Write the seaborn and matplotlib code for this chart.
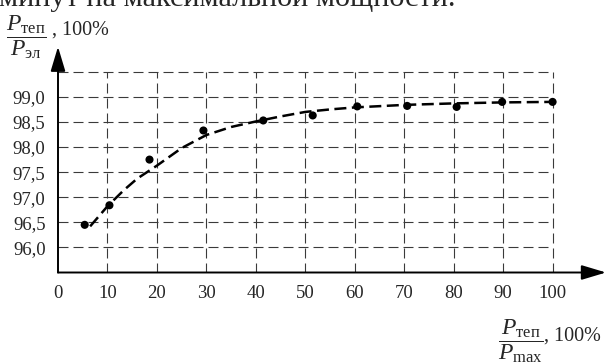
import matplotlib
matplotlib.use('Agg')
import matplotlib.pyplot as plt
import seaborn as sns
import pandas as pd

# measured points
load_pct = [5.4, 10.4, 18.5, 29.4, 41.5, 51.5, 60.5, 70.6, 80.6, 89.8, 100.0]
efficiency = [96.45, 96.84, 97.75, 98.33, 98.53, 98.63, 98.81, 98.82, 98.80, 98.90, 98.90]

# fitted curve
curve_x = [6.5, 10, 13.3, 16, 20, 25, 30, 35, 40, 45, 50, 55, 60, 70, 80, 90, 100]
curve_y = [96.42, 96.82, 97.14, 97.37, 97.63, 97.98, 98.24, 98.40, 98.51, 98.61,
           98.70, 98.75, 98.79, 98.84, 98.87, 98.89, 98.90]

x_ticks = [0, 10, 20, 30, 40, 50, 60, 70, 80, 90, 100]
y_ticks = [96.0, 96.5, 97.0, 97.5, 98.0, 98.5, 99.0]
y_tick_labels = ['96,0', '96,5', '97,0', '97,5', '98,0', '98,5', '99,0']
grid_x = [10, 20, 30, 40, 50, 60, 70, 80, 90, 100]
grid_y = [96.0, 96.5, 97.0, 97.5, 98.0, 98.5, 99.0, 99.5]

points_df = pd.DataFrame({'load': load_pct, 'eff': efficiency})
curve_df = pd.DataFrame({'load': curve_x, 'eff': curve_y})

sns.set_style('white')
plt.rcParams['font.family'] = ['Liberation Serif', 'DejaVu Serif']
plt.rcParams['mathtext.fontset'] = 'custom'
plt.rcParams['mathtext.rm'] = 'Liberation Serif'
plt.rcParams['mathtext.it'] = 'Liberation Serif:italic'

W, H = 606, 363
fig = plt.figure(figsize=(W / 100, H / 100), dpi=100)
x0_px, y0_px, ytop_px = 58, 272.5, 46.7
ax = fig.add_axes([x0_px / W, (H - y0_px) / H, (W - x0_px) / W, (y0_px - ytop_px) / H])
ax.set_xlim(0, 110.8)
ax.set_ylim(95.5, 100.0)

# dashed grid only inside the 0..100 / 95.5..99.5 box
ax.hlines(grid_y, 0, 100, colors='#3a3a3a', linewidth=0.8,
          linestyles=(0, (9, 4.5)), zorder=1)
ax.vlines(grid_x, 95.5, 99.5, colors='#3a3a3a', linewidth=0.8,
          linestyles=(0, (9, 4.5)), zorder=1)

sns.lineplot(data=curve_df, x='load', y='eff', ax=ax, color='black',
             linewidth=1.8, linestyle=(0, (4.8, 2.2)), zorder=3)
sns.scatterplot(data=points_df, x='load', y='eff', ax=ax, color='black',
                s=34, edgecolor='none', zorder=4)

for s in ax.spines.values():
    s.set_visible(False)
arrow = dict(arrowstyle='-|>,head_length=1.0,head_width=0.3', color='black',
             lw=1.4, mutation_scale=15, shrinkA=0, shrinkB=0)
ax.annotate('', xy=(110.8, 95.5), xytext=(0, 95.5), arrowprops=arrow,
            annotation_clip=False)
ax.annotate('', xy=(0, 100.0), xytext=(0, 95.5), arrowprops=arrow,
            annotation_clip=False)

ax.set_xticks(x_ticks)
ax.set_xticklabels([str(t) for t in x_ticks])
ax.set_yticks(y_ticks)
ax.set_yticklabels(y_tick_labels)
ax.tick_params(axis='both', length=0, labelsize=13.5)
ax.tick_params(axis='x', pad=9)
ax.tick_params(axis='y', pad=9)
ax.set_xlabel('')
ax.set_ylabel('')

# cut-off caption line at the very top
fig.text(-1 / W, 1 - 5.5 / H, 'минут на максимальной мощности.', fontsize=21.8,
         ha='left', va='baseline')

# axis labels as fractions
fig.text(6 / W, 1 - 29 / H,
         r'$\dfrac{P_{\mathrm{теп}}}{P_{\mathrm{эл}}}$',
         fontsize=17, ha='left', va='center_baseline')
fig.text(52 / W, 1 - 35 / H, ', 100%', fontsize=14.5, ha='left', va='baseline')
fig.text(498 / W, 1 - 333 / H,
         r'$\dfrac{P_{\mathrm{теп}}}{P_{\mathrm{max}}}$',
         fontsize=17, ha='left', va='center_baseline')
fig.text(544 / W, 1 - 341 / H, ', 100%', fontsize=14.5, ha='left', va='baseline')

fig.savefig('out.png', dpi=100)
